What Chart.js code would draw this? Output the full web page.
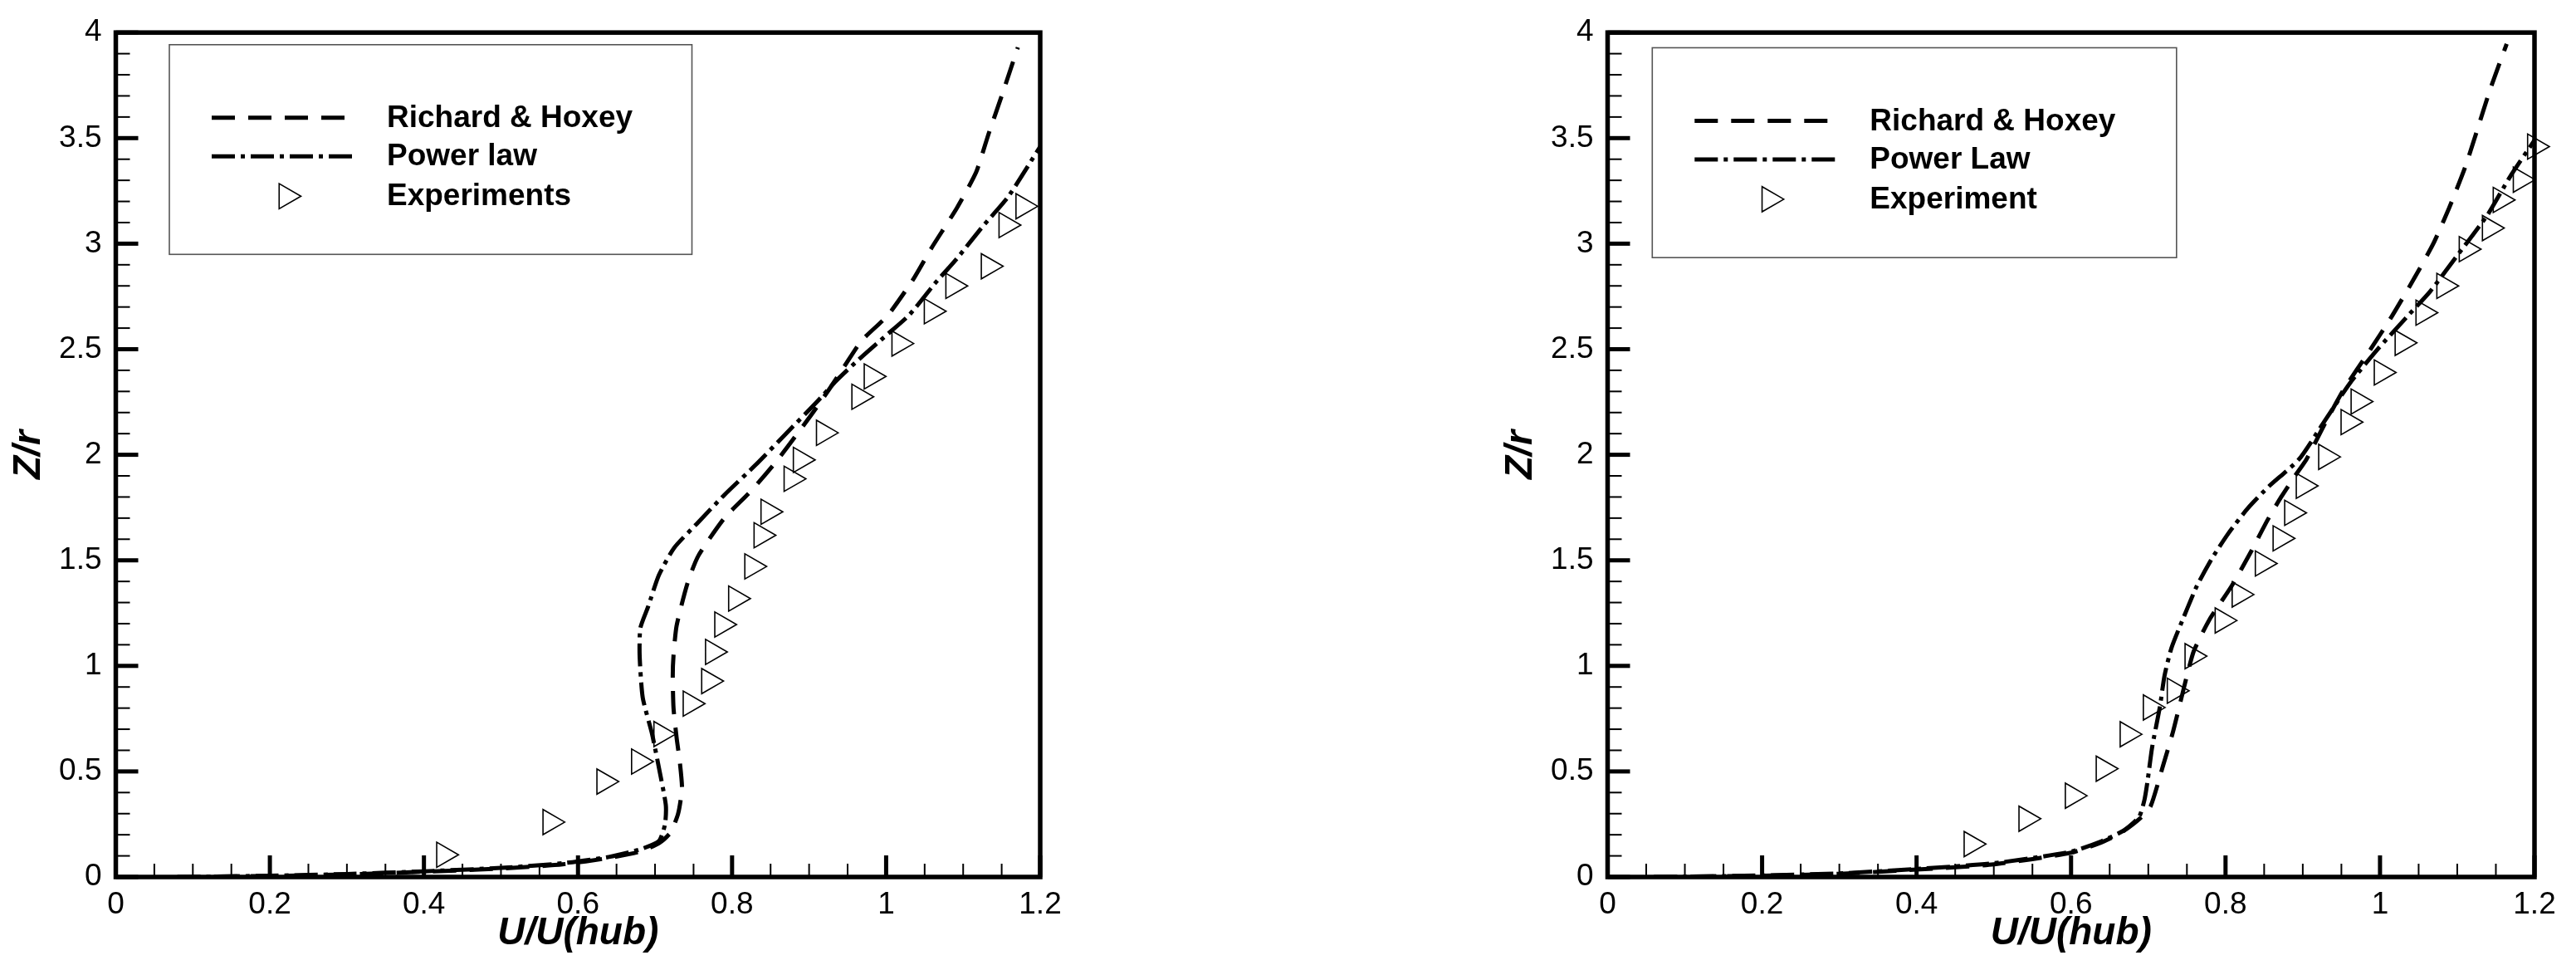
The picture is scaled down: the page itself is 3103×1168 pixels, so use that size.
<!DOCTYPE html>
<html><head><meta charset="utf-8">
<script src="https://cdn.jsdelivr.net/npm/chart.js@4.4.1/dist/chart.umd.min.js"></script>
<style>
html,body{margin:0;padding:0;background:#fff;width:3103px;height:1168px;overflow:hidden;}
canvas{position:absolute;top:0;}
#c1{left:0;} #c2{left:1797px;}
</style></head><body>
<canvas id="c1" width="1797" height="1168"></canvas>
<canvas id="c2" width="1306" height="1168"></canvas>
<script>
// ---------- tick labels ----------
const xTickLabels = ['0','0.2','0.4','0.6','0.8','1','1.2'];
const yTickLabels = ['0','0.5','1','1.5','2','2.5','3','3.5','4'];

// ---------- left panel ----------
const leftLabels = ['Richard & Hoxey','Power law','Experiments'];
const leftRichardU = [0.08,0.2,0.3,0.4,0.5,0.58,0.64,0.68,0.705,0.72,0.73,0.735,0.732,0.728,0.724,0.723,0.724,0.728,0.742,0.756,0.79,0.825,0.86,0.905,0.927,0.946,0.968,1.002,1.035,1.059,1.092,1.117,1.133,1.150,1.171];
const leftRichardZ = [0.0,0.005,0.012,0.025,0.04,0.06,0.09,0.12,0.16,0.21,0.30,0.42,0.55,0.66,0.80,0.95,1.05,1.19,1.39,1.52,1.70,1.83,1.98,2.2,2.315,2.42,2.54,2.66,2.83,2.98,3.17,3.34,3.52,3.70,3.93];
const leftPowerU = [0.08,0.2,0.3,0.4,0.5,0.58,0.64,0.68,0.705,0.713,0.714,0.706,0.696,0.684,0.680,0.681,0.691,0.705,0.725,0.756,0.79,0.83,0.87,0.91,0.935,0.964,0.997,1.030,1.063,1.092,1.125,1.158,1.2];
const leftPowerZ = [0.0,0.006,0.014,0.027,0.043,0.065,0.095,0.13,0.17,0.25,0.34,0.50,0.68,0.85,1.05,1.18,1.28,1.43,1.56,1.68,1.81,1.95,2.1,2.25,2.35,2.45,2.556,2.662,2.81,2.93,3.08,3.22,3.46];
const leftExpU = [0.426,0.564,0.634,0.679,0.708,0.746,0.770,0.775,0.787,0.805,0.826,0.838,0.847,0.877,0.889,0.919,0.965,0.981,1.017,1.059,1.087,1.133,1.156,1.178];
const leftExpZ = [0.105,0.26,0.452,0.547,0.677,0.821,0.928,1.066,1.196,1.319,1.471,1.619,1.730,1.886,1.976,2.104,2.275,2.371,2.527,2.68,2.80,2.893,3.088,3.177];

// ---------- right panel ----------
const rightLabels = ['Richard & Hoxey','Power Law','Experiment'];
const rightRichardU = [0.06,0.2,0.3,0.4,0.5,0.6,0.64,0.665,0.69,0.703,0.719,0.732,0.742,0.75,0.759,0.779,0.808,0.833,0.854,0.872,0.89,0.905,0.928,0.953,0.986,1.015,1.044,1.069,1.089,1.11,1.126,1.143,1.164];
const rightRichardZ = [0.0,0.006,0.015,0.035,0.06,0.115,0.165,0.21,0.28,0.335,0.526,0.688,0.835,0.953,1.071,1.218,1.379,1.541,1.688,1.80,1.90,1.98,2.143,2.309,2.49,2.654,2.834,3.0,3.165,3.36,3.54,3.735,3.946];
const rightPowerU = [0.06,0.2,0.3,0.4,0.5,0.6,0.64,0.668,0.688,0.695,0.699,0.705,0.715,0.721,0.73,0.746,0.763,0.783,0.804,0.829,0.856,0.895,0.928,0.961,0.998,1.035,1.065,1.102,1.139,1.168,1.2];
const rightPowerZ = [0.0,0.007,0.017,0.038,0.065,0.12,0.17,0.22,0.284,0.365,0.453,0.615,0.806,0.953,1.085,1.232,1.379,1.512,1.629,1.747,1.85,1.978,2.158,2.339,2.504,2.654,2.774,2.954,3.135,3.315,3.49];
const rightExpU = [0.471,0.542,0.602,0.642,0.673,0.703,0.734,0.757,0.796,0.818,0.848,0.871,0.886,0.901,0.930,0.959,0.972,1.002,1.029,1.056,1.083,1.112,1.142,1.156,1.182,1.2005];
const rightExpZ = [0.156,0.276,0.385,0.513,0.676,0.803,0.882,1.046,1.215,1.338,1.485,1.604,1.725,1.853,1.990,2.155,2.252,2.39,2.53,2.673,2.80,2.974,3.074,3.207,3.303,3.46];

// ---------- helpers ----------
const FONT = '"Liberation Sans", Arial, Helvetica, sans-serif';
const DASH = [28, 16];
const DASHDOT = [28, 7, 5, 7];
const pts = (u, z) => u.map((v, i) => ({x: v, y: z[i]}));

function drawTri(ctx, cx, cy, r, lw) {
  ctx.save();
  ctx.setLineDash([]);
  ctx.lineWidth = lw; ctx.strokeStyle = '#000';
  ctx.beginPath();
  ctx.moveTo(cx + r, cy);
  ctx.lineTo(cx - 0.5 * r, cy + 0.866 * r);
  ctx.lineTo(cx - 0.5 * r, cy - 0.866 * r);
  ctx.closePath();
  ctx.stroke();
  ctx.restore();
}

const framePlugin = {
  id: 'frame',
  afterDraw(chart, args, opts) {
    const {ctx, chartArea: a} = chart;
    const xs = chart.scales.x, ys = chart.scales.y;
    ctx.save();
    ctx.strokeStyle = '#000';
    ctx.setLineDash([]);
    ctx.lineCap = 'butt';
    // y ticks (minor 0.1, major 0.5), inward
    for (let i = 0; i <= 40; i++) {
      const py = ys.getPixelForValue(i / 10);
      const major = i % 5 === 0;
      ctx.lineWidth = major ? 5 : 2;
      ctx.beginPath();
      ctx.moveTo(a.left, py);
      ctx.lineTo(a.left + (major ? 27 : 17), py);
      ctx.stroke();
    }
    // x ticks (minor 0.05, major 0.2), inward
    for (let i = 0; i <= 24; i++) {
      const px = xs.getPixelForValue(i * 0.05);
      const major = i % 4 === 0;
      ctx.lineWidth = major ? 5 : 2;
      ctx.beginPath();
      ctx.moveTo(px, a.bottom);
      ctx.lineTo(px, a.bottom - (major ? 26 : 16));
      ctx.stroke();
    }
    // frame
    ctx.lineWidth = 5.5;
    ctx.lineJoin = 'miter';
    ctx.strokeRect(a.left, a.top, a.right - a.left, a.bottom - a.top);

    // legend box
    const bx = a.left + opts.dx, by = a.top + opts.dy;
    ctx.fillStyle = '#fff';
    ctx.fillRect(bx, by, opts.w, opts.h);
    ctx.lineWidth = 1.6;
    ctx.strokeStyle = '#555';
    ctx.strokeRect(bx, by, opts.w, opts.h);
    const ds = chart.data.datasets;
    const rows = [88, 134.4, 182.4];
    ctx.strokeStyle = '#000';
    ctx.lineWidth = 5;
    ctx.setLineDash(ds[0].borderDash);
    ctx.beginPath(); ctx.moveTo(bx + 51, by + rows[0]); ctx.lineTo(bx + 51 + 160, by + rows[0]); ctx.stroke();
    ctx.setLineDash(ds[1].borderDash);
    ctx.beginPath(); ctx.moveTo(bx + 51, by + rows[1]); ctx.lineTo(bx + 51 + 174, by + rows[1]); ctx.stroke();
    ctx.setLineDash([]);
    drawTri(ctx, bx + 141, by + rows[2], ds[2].pointRadius, ds[2].pointBorderWidth);
    ctx.fillStyle = '#000';
    ctx.font = 'bold 37px ' + FONT;
    ctx.textAlign = 'left';
    ctx.textBaseline = 'middle';
    for (let i = 0; i < 3; i++) ctx.fillText(ds[i].label, bx + 262, by + rows[i] + 1);
    ctx.restore();
  }
};

function makeChart(id, labels, rU, rZ, pU, pZ, eU, eZ, padTop, padRight, legendBox) {
  return new Chart(document.getElementById(id), {
    type: 'scatter',
    data: {
      datasets: [
        {label: labels[0], data: pts(rU, rZ), showLine: true, borderColor: '#000', borderWidth: 5,
         borderDash: DASH, pointRadius: 0, tension: 0.2, fill: false},
        {label: labels[1], data: pts(pU, pZ), showLine: true, borderColor: '#000', borderWidth: 5,
         borderDash: DASHDOT, pointRadius: 0, tension: 0.2, fill: false},
        {label: labels[2], data: pts(eU, eZ), showLine: false, pointStyle: 'triangle', rotation: 90,
         pointRadius: 17.5, pointBorderWidth: 1.6, pointBorderColor: '#000',
         pointBackgroundColor: 'rgba(0,0,0,0)', clip: false}
      ]
    },
    options: {
      responsive: false, animation: false, devicePixelRatio: 1,
      layout: {padding: {left: 0, top: padTop, right: padRight, bottom: 0}},
      plugins: {legend: {display: false}, tooltip: {enabled: false}, frame: legendBox},
      scales: {
        x: {
          type: 'linear', position: 'bottom', min: 0, max: 1.2,
          grid: {display: false, drawTicks: false}, border: {display: false},
          ticks: {stepSize: 0.2, autoSkip: false, maxRotation: 0, color: '#000', padding: 12,
                  font: {family: FONT, size: 37},
                  callback: (v, i) => xTickLabels[i] !== undefined ? xTickLabels[i] : v},
          title: {display: true, text: 'U/U(hub)', color: '#000',
                  font: {family: FONT, size: 46, weight: 'bold', style: 'italic', lineHeight: 1},
                  padding: {top: 0, bottom: 21}},
          afterFit(s) { s.height = 112; }
        },
        y: {
          type: 'linear', position: 'left', min: 0, max: 4,
          grid: {display: false, drawTicks: false}, border: {display: false},
          ticks: {stepSize: 0.5, autoSkip: false, color: '#000', padding: 17,
                  font: {family: FONT, size: 37},
                  callback: (v, i) => yTickLabels[i] !== undefined ? yTickLabels[i] : v},
          title: {display: true, text: 'Z/r', color: '#000',
                  font: {family: FONT, size: 46, weight: 'bold', style: 'italic', lineHeight: 1},
                  padding: {top: 12, bottom: 0}},
          afterFit(s) { s.width = 139.5; }
        }
      }
    },
    plugins: [framePlugin]
  });
}

makeChart('c1', leftLabels, leftRichardU, leftRichardZ, leftPowerU, leftPowerZ, leftExpU, leftExpZ,
          39, 544, {dx: 64.5, dy: 14.6, w: 629.5, h: 252.5});
makeChart('c2', rightLabels, rightRichardU, rightRichardZ, rightPowerU, rightPowerZ, rightExpU, rightExpZ,
          36, 50, {dx: 53.8, dy: 18.3, w: 631.5, h: 252.7});
</script>
</body></html>
